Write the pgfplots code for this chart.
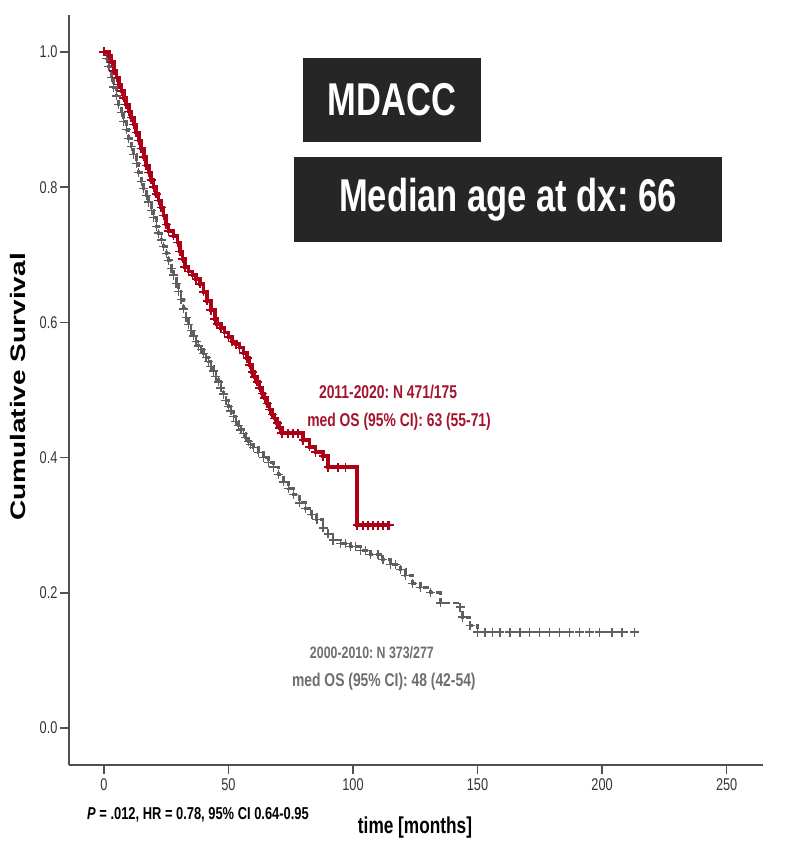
\documentclass[border=0pt]{standalone}
\usepackage{fontspec}
\setmainfont{Liberation Sans}[FakeStretch=0.75]
\newfontfamily\widefont{Liberation Sans}
\usepackage{graphicx}
\usepackage{pgfplots}
\pgfplotsset{compat=1.18}
\frenchspacing

\definecolor{kmred}{RGB}{172,0,24}
\definecolor{txtred}{RGB}{165,20,45}
\definecolor{kmgray}{RGB}{95,95,95}
\definecolor{txtgray}{RGB}{110,110,110}
\definecolor{boxfill}{RGB}{38,38,38}
\definecolor{axisgray}{RGB}{80,80,80}

% Kaplan-Meier estimates (time in months, survival)
\pgfplotstableread{
t S
0 1.000
2 0.995
3 0.985
4 0.972
5 0.962
6 0.952
7 0.942
8 0.932
9 0.922
10 0.912
11 0.903
12 0.893
13 0.881
14 0.869
15 0.857
16 0.845
17 0.832
18 0.822
19 0.811
20 0.800
21 0.790
22 0.780
23 0.770
24 0.758
25 0.745
26 0.735
28 0.728
29.5 0.718
30.5 0.705
31.5 0.694
32.5 0.682
34 0.675
35.5 0.670
37 0.664
38.5 0.657
40 0.645
41.5 0.632
43 0.618
44.5 0.605
45.5 0.598
47 0.592
48.5 0.585
50 0.578
51.5 0.572
53 0.568
54.5 0.563
56 0.555
57.5 0.547
58.5 0.537
59.5 0.527
60.5 0.519
61.5 0.512
62.5 0.503
63.5 0.495
64.5 0.488
65.5 0.480
66.5 0.471
67.5 0.464
68.5 0.458
69.5 0.451
70.5 0.444
71.5 0.436
80 0.426
82.5 0.416
85 0.408
88 0.402
90 0.386
101.7 0.300
114.5 0.300
}\recent

\pgfplotstableread{
t S
0 1.000
1 0.990
2 0.978
3 0.962
4 0.948
5 0.935
6 0.922
7 0.910
8 0.897
9 0.885
10 0.872
11 0.860
12 0.848
13 0.835
14 0.822
15 0.808
16 0.798
17 0.788
18 0.778
19 0.766
20 0.755
21 0.742
22 0.732
23 0.722
24 0.712
25 0.702
26 0.692
27 0.680
28 0.670
29 0.658
30 0.646
31 0.634
32 0.620
33 0.607
34 0.597
35 0.588
36 0.580
37 0.572
38 0.565
39 0.560
40 0.554
41 0.548
42 0.542
43 0.535
44 0.528
45 0.520
46 0.512
47 0.503
48 0.494
49 0.484
50 0.476
51 0.469
52 0.461
53 0.453
54 0.447
55 0.441
56 0.436
57 0.430
58 0.424
59 0.419
60 0.415
62 0.408
64 0.400
66 0.393
68 0.386
70 0.375
72 0.364
74 0.354
76 0.345
78.5 0.333
81 0.325
83.5 0.316
85.5 0.308
88 0.296
90 0.287
92 0.278
95 0.273
99 0.268
103 0.263
107 0.257
112 0.249
115 0.242
119 0.234
121 0.226
124 0.214
127 0.208
131 0.200
135 0.185
143 0.179
144 0.164
147 0.152
150 0.142
213 0.142
}\older

% extra censoring marks on the flat parts
\pgfplotstableread{
t S
74 0.436
76 0.436
78 0.436
94 0.386
97 0.386
104 0.300
106 0.300
108 0.300
110 0.300
112 0.300
114 0.300
}\recentcens

\pgfplotstableread{
t S
153 0.142
156 0.142
159 0.142
163 0.142
167 0.142
171 0.142
175 0.142
179 0.142
183 0.142
187 0.142
191 0.142
195 0.142
199 0.142
204 0.142
208 0.142
97 0.273
101 0.268
105 0.263
110 0.257
117 0.242
}\oldercens

\begin{document}
\begin{tikzpicture}
\useasboundingbox (-69pt,-77pt) rectangle (720pt,765pt);
\begin{axis}[
  at={(0pt,0pt)}, anchor=south west,
  scale only axis,
  width=694pt, height=750pt,
  xmin=-14, xmax=264.6,
  ymin=-0.0547, ymax=1.0547,
  axis x line*=bottom, axis y line*=left,
  axis line style={axisgray, line width=1.4pt},
  xtick={0,50,100,150,200,250},
  ytick={0,0.2,0.4,0.6,0.8,1.0},
  tick align=outside,
  major tick length=9pt,
  tick style={axisgray, line width=1.4pt},
  yticklabel style={/pgf/number format/fixed, /pgf/number format/precision=1, /pgf/number format/fixed zerofill},
  /pgf/number format/assume math mode=true,
  tick label style={font=\fontsize{17}{19}\selectfont, text=black!80},
  xticklabel style={yshift=-1pt},
  yticklabel style={xshift=1pt},
  clip=false,
]
\addplot[const plot, kmgray, line width=2.8pt, dash pattern=on 6pt off 3pt] table {\older};
\addplot[only marks, mark=+, mark size=4.5pt, mark options={kmgray, line width=1.3pt, solid}] table {\older};
\addplot[only marks, mark=+, mark size=4.5pt, mark options={kmgray, line width=1.3pt, solid}] table {\oldercens};
\addplot[const plot, kmred, line width=3.6pt] table {\recent};
\addplot[only marks, mark=+, mark size=4.5pt, mark options={kmred, line width=1.6pt}] table {\recent};
\addplot[only marks, mark=+, mark size=4.5pt, mark options={kmred, line width=1.6pt}] table {\recentcens};

\node[fill=boxfill, minimum width=178pt, minimum height=84pt, inner sep=0pt, text=white,
  font=\fontsize{46}{50}\selectfont\bfseries] at (axis cs:115.7,0.929) {MDACC};
\node[fill=boxfill, minimum width=428pt, minimum height=85pt, inner sep=0pt, text=white,
  font=\fontsize{46}{50}\selectfont\bfseries] at (axis cs:162.2,0.782) {Median age at dx: 66};

\node[text=txtred, font=\fontsize{18.5}{20}\selectfont\bfseries] at (axis cs:114.1,0.497) {2011-2020: N 471/175};
\node[text=txtred, font=\fontsize{18.5}{20}\selectfont\bfseries] at (axis cs:118.5,0.453) {med OS (95\% CI): 63 (55-71)};
\node[text=txtgray, font=\fontsize{16.5}{20}\selectfont\bfseries] at (axis cs:107.6,0.112) {2000-2010: N 373/277};
\node[text=txtgray, font=\fontsize{18.5}{20}\selectfont\bfseries] at (axis cs:112.4,0.068) {med OS (95\% CI): 48 (42-54)};
\end{axis}
\node[font=\fontsize{23}{26}\selectfont\bfseries] at (346pt,-63pt) {time [months]};
\node[font=\fontsize{17.2}{20}\selectfont\bfseries] at (129pt,-50pt) {\textit{P} = .012, HR = 0.78, 95\% CI 0.64-0.95};
\node[rotate=90] at (-51pt,378pt) {\scalebox{1}[0.75]{\widefont\fontsize{28}{30}\selectfont\bfseries Cumulative Survival}};
\end{tikzpicture}
\end{document}
